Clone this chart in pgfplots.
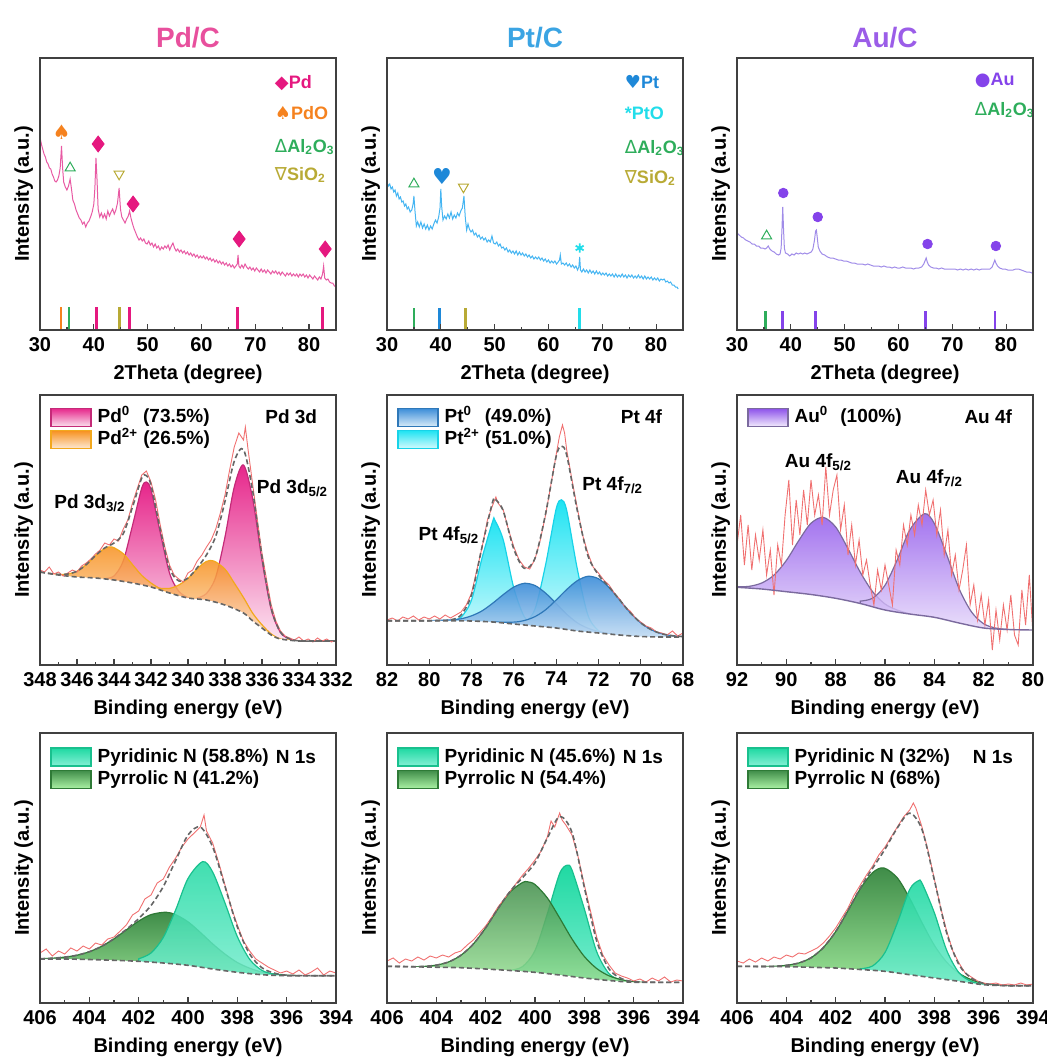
\documentclass[border=0pt]{standalone}
\usepackage{fontspec}
\setmainfont{Liberation Sans}
\newfontfamily\symfont{DejaVu Sans}
\usepackage{pgfplots}
\usepackage{pgfplotstable}
\pgfplotsset{compat=1.18}

\newcommand{\tkfont}{\fontsize{10}{12}\selectfont\bfseries}
\newcommand{\lgfont}{\fontsize{9.5}{11}\selectfont\bfseries}
\newcommand{\xlfont}{\fontsize{9}{10}\selectfont\bfseries}
\newcommand{\ttlfont}{\fontsize{14}{16}\selectfont\bfseries}

% XRD colours
\definecolor{pdttl}{HTML}{E8509D}
\definecolor{pdm}{HTML}{E5187F}
\definecolor{pdcurve}{HTML}{E85AA3}
\definecolor{pdo}{HTML}{F5821F}
\definecolor{alg}{HTML}{2EAD5B}
\definecolor{sio}{HTML}{B8AA35}
\definecolor{ptttl}{HTML}{3BA4E3}
\definecolor{ptm}{HTML}{1E88D8}
\definecolor{ptcurve}{HTML}{45B5F2}
\definecolor{pto}{HTML}{22DDEA}
\definecolor{auttl}{HTML}{9B5DE8}
\definecolor{aum}{HTML}{8443EA}
\definecolor{aucurve}{HTML}{A08CE8}
% XPS colours
\definecolor{pdtop}{HTML}{E6258A}
\definecolor{pdbot}{HTML}{FADCEB}
\definecolor{pdline}{HTML}{C42A78}
\definecolor{pdotop}{HTML}{F7901E}
\definecolor{pdobot}{HTML}{FDE8D2}
\definecolor{pdoline}{HTML}{F2A81D}
\definecolor{pttop}{HTML}{3A8CD8}
\definecolor{ptbot}{HTML}{D6EAF8}
\definecolor{ptline}{HTML}{2F78B8}
\definecolor{ptotop}{HTML}{1EE3F2}
\definecolor{ptobot}{HTML}{D2FAFD}
\definecolor{ptoline}{HTML}{17D3E8}
\definecolor{autop}{HTML}{8C50EA}
\definecolor{aubot}{HTML}{F0E8FC}
\definecolor{auline}{HTML}{7B6A9E}
\definecolor{pytop}{HTML}{1FD9A2}
\definecolor{pybot}{HTML}{86F0D6}
\definecolor{pyline}{HTML}{19C08E}
\definecolor{grtop}{HTML}{3F8C48}
\definecolor{grbot}{HTML}{A8F0A2}
\definecolor{grline}{HTML}{2E7A36}
\definecolor{rawc}{HTML}{F07070}
\definecolor{envc}{HTML}{666666}

% Shirley-type backgrounds
\pgfplotstableread{
x y
348 93
347 90
346 88
345 87
344 85
343 82
342 78
341 72
340 67
339 65
338 60
337 52
336.5 44
336 37
335.5 30
335 26
334 24
333 24
332 24
}\bgPd
\pgfplotstableread{
x y
82 44.3
80 44.3
79 44.2
78 44
77 43
76 41
75 39
74 37
73 34
72 32
71 30
70 28.5
69 28
68 28
}\bgPt
\pgfplotstableread{
x y
92 77.7
91 76
90 73.3
89 70.5
88 66.7
87 61.5
86 55
85 51
84 47.7
83 42
82 37
81 35.5
80 35
}\bgAu
\pgfplotstableread{
x y
406 44
405 44
404 43.5
403 42.7
402 41.7
401 40
400 37.7
399 34
398 30.7
397 28.3
396 27.3
395 27.3
394 27.3
}\bgNa
\pgfplotstableread{
x y
406 36.7
404 35.8
403 35.3
402 34
401 32.5
400 30.7
399 28
398 25
397 22.5
396 20.7
395 20.7
394 20.7
}\bgNb
\pgfplotstableread{
x y
406 36.7
404 36.3
403 35.7
402 35
401 33.5
400 31.7
399 28.3
398 25
397 21.7
396 18.3
395 17.3
394 17.3
}\bgNc

\pgfplotsset{
  panel/.style={scale only axis, width=148pt, height=135pt, anchor=south west, axis on top,
    axis line style={black!75, line width=0.7pt}, tick align=inside, xtick pos=bottom,
    ytick=\empty, major tick length=3pt, minor tick length=1.7pt,
    every tick/.style={black!75, line width=0.6pt},
    ticklabel style={font=\tkfont}, label style={font=\tkfont},
    /pgf/number format/assume math mode=true, ylabel={Intensity (a.u.)}, ymin=0},
  xrd/.style={panel, height=136pt, xmin=30, xmax=85, ymax=272, xtick={30,40,...,80},
    minor x tick num=1, xlabel={2Theta (degree)}, title style={font=\ttlfont, yshift=-4.5pt}},
  xps/.style={panel, x dir=reverse, ymax=270, minor x tick num=1,
    xlabel={Binding energy (eV)},
    legend image code/.code={\draw[##1] (0pt,-4.5pt) rectangle (20pt,4.5pt);},
    legend style={at={(0.034,#1)}, anchor=north west, draw=none, fill=none, inner sep=0pt,
      row sep=1.5pt, font=\lgfont, cells={anchor=west},
      nodes={inner sep=0.5pt, text height=7pt, text depth=1.5pt},
      /tikz/every odd column/.append style={column sep=2.5pt}}},
  raw/.style={color=rawc, line width=0.45pt},
  env/.style={color=envc, dash pattern=on 2.5pt off 1.5pt, line width=0.8pt, smooth},
  comp/.style={line width=0.6pt, smooth},
  cover/.style={fill=white, draw=none, smooth},
}

\begin{document}
\begin{tikzpicture}
\useasboundingbox (0,0) rectangle (523.5pt,-532pt);

%================ Pd/C XRD
\begin{axis}[xrd, at={(20pt,-165pt)}, title={Pd/C}, title style={text=pdttl}]
\addplot[pdcurve, line width=0.5pt] coordinates {
(30,193) (30.25,186) (30.5,181) (30.75,176) (31,173) (31.25,168) (31.5,166) (31.75,162) (32,161) (32.25,156)
(32.5,153) (32.75,149) (33,148) (33.25,150) (33.5,154) (33.75,162) (34,184) (34.2,162) (34.4,148) (34.7,143)
(35,140) (35.3,144) (35.6,151) (35.85,141) (36.1,130) (36.4,126) (36.7,120) (37,116) (37.3,112) (37.6,110)
(37.9,106) (38.2,108) (38.5,103) (38.8,107) (39.1,109) (39.4,113) (39.7,118) (40,126) (40.2,142) (40.4,172)
(40.6,150) (40.8,121) (41.1,113) (41.4,117) (41.7,112) (42,116) (42.3,111) (42.6,119) (42.9,114) (43.2,118)
(43.5,121) (43.8,116) (44.1,120) (44.4,127) (44.7,142) (44.95,121) (45.2,113) (45.5,110) (45.8,107) (46.1,111)
(46.4,114) (46.65,119) (46.9,112) (47.2,106) (47.5,101) (47.8,97) (48.1,93) (48.4,90) (48.7,92) (49,89)
(49.3,91) (49.6,87) (49.9,86) (50.2,89) (50.5,85) (50.8,87) (51.1,83) (51.4,86) (51.7,82) (52,84)
(52.3,80) (52.6,83) (52.9,81) (53.2,84) (53.5,82) (53.8,85) (54.1,80) (54.4,84) (54.7,87) (55,82)
(55.3,79) (55.6,81) (55.9,78) (56.2,80) (56.5,77) (56.8,79) (57.1,76) (57.4,78) (57.7,75) (58,77)
(58.3,74) (58.6,76) (58.9,73) (59.2,75) (59.5,72) (59.8,74) (60.1,72) (60.4,74) (60.7,71) (61,73)
(61.3,70) (61.6,72) (61.9,69) (62.2,71) (62.5,68) (62.8,70) (63.1,67) (63.4,69) (63.7,66) (64,68)
(64.3,65) (64.6,67) (64.9,64) (65.2,66) (65.5,63) (65.8,65) (66.1,62) (66.4,64) (66.65,66) (66.8,75)
(66.95,64) (67.2,62) (67.5,65) (67.8,62) (68.1,66) (68.4,63) (68.7,61) (69,63) (69.3,60) (69.6,62)
(69.9,59) (70.2,62) (70.5,60) (70.8,58) (71.1,61) (71.4,58) (71.7,60) (72,57) (72.3,60) (72.6,58)
(72.9,56) (73.2,59) (73.5,57) (73.8,59) (74.1,56) (74.4,58) (74.7,55) (75,58) (75.3,56) (75.6,54)
(75.9,57) (76.2,55) (76.5,57) (76.8,54) (77.1,56) (77.4,54) (77.7,56) (78,53) (78.3,56) (78.6,54)
(78.9,56) (79.2,53) (79.5,55) (79.8,52) (80.1,55) (80.4,53) (80.7,51) (81,54) (81.3,52) (81.6,50)
(81.9,53) (82.2,51) (82.5,56) (82.7,64) (82.9,52) (83.2,50) (83.5,51) (83.8,48) (84.1,47) (84.4,47)
(84.7,44) (85,44)};
% reference lines
\addplot[pdo, line width=1.3pt] coordinates {(33.9,0) (33.9,23)};
\addplot[alg, line width=1.3pt] coordinates {(35.4,0) (35.4,23)};
\addplot[sio, line width=1.3pt] coordinates {(44.8,0) (44.8,23)};
\addplot[pdm, line width=1.3pt, unbounded coords=jump] coordinates {
(40.5,0) (40.5,23) (40.5,nan) (46.6,0) (46.6,23) (46.6,nan) (66.7,0) (66.7,23) (66.7,nan) (82.5,0) (82.5,23)};
% peak markers
\addplot[only marks, mark=diamond*, mark size=4pt, pdm] coordinates {(40.8,186) (47.3,126) (67,91) (83,81)};
\addplot[only marks, mark=text, text mark={\textcolor{pdo}{\symfont\fontsize{10}{10}\selectfont ♠}}] coordinates {(34,198)};
\addplot[only marks, mark=triangle, mark size=2.9pt, alg, line width=0.5pt] coordinates {(35.6,162)};
\addplot[only marks, mark=triangle, mark size=2.9pt, sio, line width=0.5pt, mark options={rotate=180}] coordinates {(44.7,156)};
\node[anchor=west, text=pdm, font=\xlfont] at (axis description cs:0.77,0.908) {{\symfont ◆}Pd};
\node[anchor=west, text=pdo, font=\xlfont] at (axis description cs:0.77,0.798) {{\symfont ♠}PdO};
\node[anchor=west, text=alg, font=\xlfont] at (axis description cs:0.77,0.673) {{\symfont\mdseries Δ}Al\textsubscript{2}O\textsubscript{3}};
\node[anchor=west, text=sio, font=\xlfont] at (axis description cs:0.77,0.57) {{\symfont\mdseries ∇}SiO\textsubscript{2}};
\end{axis}

%================ Pt/C XRD
\begin{axis}[xrd, at={(193.5pt,-165pt)}, title={Pt/C}, title style={text=ptttl}]
\addplot[ptcurve, line width=0.5pt] coordinates {
(30,148) (30.25,144) (30.5,146) (30.75,141) (31,143) (31.25,138) (31.5,140) (31.75,134) (32,137) (32.25,131)
(32.5,133) (32.75,128) (33,129) (33.25,124) (33.5,126) (33.75,121) (34,123) (34.3,118) (34.6,120) (34.85,126)
(35,134) (35.2,119) (35.45,104) (35.7,108) (36,103) (36.3,108) (36.6,102) (36.9,106) (37.2,101) (37.5,105)
(37.8,100) (38.1,104) (38.4,101) (38.7,106) (39,110) (39.3,107) (39.6,113) (39.85,122) (40,141) (40.15,124)
(40.4,110) (40.7,114) (41,111) (41.3,116) (41.6,112) (41.9,118) (42.2,111) (42.5,115) (42.8,112) (43.1,117)
(43.4,114) (43.7,119) (44,122) (44.3,134) (44.55,112) (44.8,100) (45.05,106) (45.3,101) (45.6,98) (45.9,100)
(46.2,95) (46.5,97) (46.8,93) (47.1,95) (47.4,91) (47.7,93) (48,90) (48.3,92) (48.6,88) (48.9,90)
(49.2,88) (49.5,94) (49.8,87) (50.1,86) (50.4,88) (50.7,84) (51,86) (51.3,82) (51.6,83) (51.9,80)
(52.2,82) (52.5,78) (52.8,80) (53.1,77) (53.4,79) (53.7,76) (54,79) (54.3,75) (54.6,78) (54.9,75)
(55.2,77) (55.5,74) (55.8,76) (56.1,73) (56.4,75) (56.7,72) (57,74) (57.3,71) (57.6,73) (57.9,71)
(58.2,73) (58.5,70) (58.8,72) (59.1,69) (59.4,71) (59.7,68) (60,70) (60.3,67) (60.6,69) (60.9,67)
(61.2,69) (61.5,66) (61.8,68) (62.05,70) (62.2,75) (62.4,66) (62.7,67) (63,65) (63.3,67) (63.6,64)
(63.9,66) (64.2,63) (64.5,65) (64.8,62) (65.1,64) (65.4,60) (65.65,63) (65.8,73) (65.95,60) (66.2,58)
(66.5,61) (66.8,58) (67.1,60) (67.4,57) (67.7,60) (68,57) (68.3,59) (68.6,56) (68.9,59) (69.2,56)
(69.5,58) (69.8,55) (70.1,57) (70.4,55) (70.7,57) (71,54) (71.3,56) (71.6,54) (71.9,56) (72.2,53)
(72.5,56) (72.8,53) (73.1,55) (73.4,53) (73.7,56) (74,53) (74.3,55) (74.6,52) (74.9,55) (75.2,53)
(75.5,55) (75.8,52) (76.1,54) (76.4,52) (76.7,55) (77,52) (77.3,54) (77.6,51) (77.9,54) (78.2,51)
(78.5,53) (78.8,51) (79.1,53) (79.4,50) (79.7,52) (80,50) (80.3,52) (80.6,49) (80.9,51) (81.2,50)
(81.5,51) (81.8,48) (82.1,49) (82.4,47) (82.7,48) (83,45) (83.3,45) (83.6,43) (83.9,43) (84.1,41)};
\addplot[alg, line width=1.3pt] coordinates {(35,0) (35,22)};
\addplot[ptm, line width=1.3pt] coordinates {(39.8,0) (39.8,22)};
\addplot[sio, line width=1.3pt] coordinates {(44.6,0) (44.6,22)};
\addplot[pto, line width=1.3pt] coordinates {(65.8,0) (65.8,22)};
\addplot[only marks, mark=text, text mark={\textcolor{ptm}{\symfont\fontsize{11}{11}\selectfont ♥}}] coordinates {(40.2,154)};
\addplot[only marks, mark=triangle, mark size=2.9pt, alg, line width=0.5pt] coordinates {(35,146)};
\addplot[only marks, mark=triangle, mark size=2.9pt, sio, line width=0.5pt, mark options={rotate=180}] coordinates {(44.2,143)};
\addplot[only marks, mark=asterisk, mark size=2.3pt, pto, line width=0.9pt] coordinates {(65.8,82)};
\node[anchor=west, text=ptm, font=\xlfont] at (axis description cs:0.78,0.912) {{\symfont ♥}Pt};
\node[anchor=west, text=pto, font=\xlfont] at (axis description cs:0.78,0.798) {*PtO};
\node[anchor=west, text=alg, font=\xlfont] at (axis description cs:0.78,0.669) {{\symfont\mdseries Δ}Al\textsubscript{2}O\textsubscript{3}};
\node[anchor=west, text=sio, font=\xlfont] at (axis description cs:0.78,0.559) {{\symfont\mdseries ∇}SiO\textsubscript{2}};
\end{axis}

%================ Au/C XRD
\begin{axis}[xrd, at={(368.5pt,-165pt)}, title={Au/C}, title style={text=auttl}]
\addplot[aucurve, line width=0.5pt] coordinates {
(30,97) (30.4,95) (30.8,93) (31.2,92) (31.6,90) (32,89) (32.4,88) (32.8,86) (33.2,86) (33.6,84)
(34,84) (34.4,82) (34.8,82) (35.2,81) (35.5,82) (35.8,84) (36.1,81) (36.5,79) (36.9,78) (37.3,76)
(37.7,75) (38,76) (38.2,82) (38.35,100) (38.5,123) (38.65,100) (38.8,82) (39,77) (39.4,76) (39.8,74)
(40.2,76) (40.6,75) (41,77) (41.4,76) (41.8,77) (42.2,76) (42.6,77) (43,76) (43.4,77) (43.8,78)
(44.1,81) (44.4,90) (44.6,99) (44.75,100) (44.9,93) (45.1,83) (45.4,79) (45.8,76) (46.3,75) (46.8,73)
(47.3,72) (47.8,72) (48.3,71) (48.8,70) (49.3,70) (49.8,69) (50.3,69) (50.8,68) (51.3,67) (51.8,67)
(52.3,66) (52.8,66) (53.3,66) (53.8,65) (54.3,66) (54.8,65) (55.3,64) (55.8,64) (56.3,64) (56.8,63)
(57.3,64) (57.8,63) (58.3,63) (58.8,62) (59.3,63) (59.8,62) (60.3,62) (60.8,63) (61.3,62) (61.8,62)
(62.3,62) (62.8,61) (63.3,62) (63.8,62) (64.3,63) (64.7,66) (65,70) (65.15,72) (65.35,68) (65.6,65)
(66,63) (66.5,62) (67,62) (67.5,61) (68,62) (68.5,61) (69,61) (69.5,61) (70,61) (70.5,61)
(71,60) (71.5,61) (72,60) (72.5,61) (73,60) (73.5,61) (74,60) (74.5,61) (75,60) (75.5,61)
(76,61) (76.5,61) (77,61) (77.4,63) (77.7,67) (77.9,70) (78.1,67) (78.4,64) (78.8,62) (79.3,61)
(79.8,61) (80.3,60) (80.8,60) (81.3,60) (81.8,61) (82.3,61) (82.8,60) (83.3,59) (83.8,58) (84.3,58)
(84.8,57) (85,57)};
\addplot[alg, line width=1.3pt] coordinates {(35.3,0) (35.3,19)};
\addplot[aum, line width=1.3pt, unbounded coords=jump] coordinates {
(38.4,0) (38.4,19) (38.4,nan) (44.6,0) (44.6,19) (44.6,nan) (65,0) (65,19) (65,nan) (77.9,0) (77.9,19)};
\addplot[only marks, mark=*, mark size=2.4pt, aum] coordinates {(38.6,137) (45,113) (65.4,86) (78.1,84)};
\addplot[only marks, mark=triangle, mark size=2.9pt, alg, line width=0.5pt] coordinates {(35.5,94)};
\node[anchor=west, text=aum, font=\xlfont] at (axis description cs:0.78,0.919) {{\symfont ●}Au};
\node[anchor=west, text=alg, font=\xlfont] at (axis description cs:0.78,0.809) {{\symfont\mdseries Δ}Al\textsubscript{2}O\textsubscript{3}};
\end{axis}

%================ Pd 3d
\begin{axis}[xps=0.955, at={(20pt,-332.5pt)}, xmin=332, xmax=348, xtick={332,334,...,348}]
\addlegendimage{top color=pdtop, bottom color=pdbot, draw=pdline, line width=0.6pt}
\addlegendentry{Pd\textsuperscript{0}\hspace{6.4pt}(73.5\%)}
\addlegendimage{top color=pdotop, bottom color=pdobot, draw=pdoline, line width=0.6pt}
\addlegendentry{Pd\textsuperscript{2+} (26.5\%)}
\addplot[comp, draw=pdline, top color=pdtop, bottom color=white] coordinates {
(339.5,67) (339,71.5) (338.5,88) (338,128) (337.5,178) (337,200) (336.5,166) (336,105) (335.5,55.5)
(335,32.5) (334.5,26) (334,24)} \closedcycle;
\addplot[comp, draw=pdline, top color=pdtop, bottom color=white] coordinates {
(344.5,86.5) (344,89) (343.5,104) (343,139.5) (342.5,177) (342.25,183) (342,175) (341.5,132.5) (341,92)
(340.5,73.7) (340,67.4)} \closedcycle;
\addplot[comp, draw=pdoline, top color=pdotop, bottom color=white, fill opacity=0.85] coordinates {
(347.5,91.6) (347,90.6) (346.5,91) (346,93.8) (345.5,100.4) (345,109.4) (344.5,116.6) (344.1,118)
(343.5,111.3) (343,100.4) (342.5,89.6) (342,82) (341.5,76.3) (341,72.3) (340.5,69.5)} \closedcycle;
\addplot[comp, draw=pdoline, top color=pdotop, bottom color=white, fill opacity=0.85] coordinates {
(341.5,76.7) (341,76.6) (340.5,80) (340,86.5) (339.5,96.2) (339,103.6) (338.6,104) (338,95.8)
(337.5,82) (337,67.5) (336.5,51.7) (336,40.2) (335.5,31) (335,26) (334.5,25)} \closedcycle;
\addplot[cover] table {\bgPd} \closedcycle;
\addplot[env] table {\bgPd};
\addplot[raw] coordinates {
(348,95) (347.75,93) (347.5,98) (347.25,91) (347,93) (346.75,89) (346.5,92) (346.25,95) (346,93) (345.75,99)
(345.5,102) (345.25,106) (345,111) (344.75,115) (344.5,122) (344.25,120) (344,126) (343.75,124) (343.5,136) (343.25,145)
(343,162) (342.75,176) (342.5,190) (342.25,194) (342,183) (341.75,165) (341.5,140) (341.25,118) (341,100) (340.75,90)
(340.5,86) (340.25,83) (340,92) (339.75,95) (339.5,104) (339.25,110) (339,118) (338.75,125) (338.5,136) (338.25,152)
(338,170) (337.75,195) (337.5,218) (337.25,232) (337,225) (336.9,238) (336.75,215) (336.5,180) (336.25,145) (336,112)
(335.75,85) (335.5,60) (335.25,44) (335,34) (334.75,29) (334.5,27) (334.25,25) (334,28) (333.75,24) (333.5,26)
(333.25,23) (333,27) (332.75,24) (332.5,26) (332.25,23) (332,25)};
\addplot[env] coordinates {
(348,93) (347.5,91.6) (347,90.6) (346.5,91) (346,93.8) (345.5,100.4) (345,109.4) (344.5,117.1) (344,122)
(343.5,131.3) (343,157.9) (342.5,187) (342.25,189.4) (342,180) (341.5,135.5) (341,96.9) (340.5,84.1)
(340,87) (339.5,97.3) (339,110.1) (338.5,128.8) (338,163.6) (337.5,203.7) (337,215.5) (336.5,173.5)
(336,108) (335.5,56.6) (335,32.8) (334.5,26.1) (334,24.2) (333,24) (332,24)};
\node[anchor=east, font=\lgfont] at (axis description cs:0.96,0.918) {Pd 3d};
\node[font=\lgfont] at (axis cs:345.3,162) {Pd 3d\textsubscript{3/2}};
\node[font=\lgfont] at (axis cs:334.35,177) {Pd 3d\textsubscript{5/2}};
\end{axis}

%================ Pt 4f
\begin{axis}[xps=0.955, at={(193.5pt,-332.5pt)}, xmin=68, xmax=82, xtick={68,70,...,82}]
\addlegendimage{top color=pttop, bottom color=ptbot, draw=ptline, line width=0.6pt}
\addlegendentry{Pt\textsuperscript{0}\hspace{6.4pt}(49.0\%)}
\addlegendimage{top color=ptotop, bottom color=ptobot, draw=ptoline, line width=0.6pt}
\addlegendentry{Pt\textsuperscript{2+} (51.0\%)}
\addplot[comp, draw=ptoline, top color=ptotop, bottom color=white] coordinates {
(79,44.3) (78.5,47.7) (78,65.2) (77.5,107.4) (77,143.7) (76.9,144.8) (76.5,124.9) (76,76.7) (75.5,48) (75,39.9) (74.5,38)} \closedcycle;
\addplot[comp, draw=ptoline, top color=ptotop, bottom color=white] coordinates {
(76,41) (75.5,42.4) (75,56) (74.5,100.1) (74,156) (73.75,165.2) (73.5,154.5) (73,96.1) (72.5,50) (72,34.4) (71.5,31)} \closedcycle;
\addplot[comp, draw=ptline, top color=pttop, bottom color=white, fill opacity=0.9] coordinates {
(80,44.3) (79,45.1) (78.5,46.2) (78,49.2) (77.5,54.2) (77,61.8) (76.5,70.4) (76,78) (75.5,81.7) (75,79.5)
(74.5,71.9) (74,61.5) (73.5,50.8) (73,42.2) (72.5,36.8) (72,33.5) (71.5,31.5) (71,30)} \closedcycle;
\addplot[comp, draw=ptline, top color=pttop, bottom color=white, fill opacity=0.9] coordinates {
(77,43) (76,42.9) (75.5,44.5) (75,48.4) (74.5,55.2) (74,65) (73.5,75.5) (73,84.3) (72.5,88.7) (72,86.3)
(71.5,77.6) (71,65.2) (70.5,52.4) (70,42.2) (69.5,35.3) (69,31.2) (68.5,29.3) (68,28.4)} \closedcycle;
\addplot[cover] table {\bgPt} \closedcycle;
\addplot[env] table {\bgPt};
\addplot[raw] coordinates {
(82,45) (81.75,47) (81.5,44) (81.25,48) (81,46) (80.75,49) (80.5,45) (80.25,48) (80,46) (79.75,49)
(79.5,46) (79.25,50) (79,47) (78.75,50) (78.5,53) (78.25,60) (78,72) (77.75,95) (77.5,118) (77.25,145)
(77,160) (76.85,168) (76.75,162) (76.5,155) (76.25,135) (76,118) (75.75,105) (75.5,98) (75.25,96) (75,106)
(74.75,125) (74.5,150) (74.25,180) (74,210) (73.85,228) (73.7,240) (73.6,232) (73.5,215) (73.25,185) (73,157)
(72.75,130) (72.5,112) (72.25,98) (72,92) (71.75,85) (71.5,80) (71.25,72) (71,66) (70.75,58) (70.5,54)
(70.25,47) (70,43) (69.75,39) (69.5,37) (69.25,33) (69,32) (68.75,30) (68.5,34) (68.25,29) (68,32)};
\addplot[env] coordinates {
(82,44.3) (81,44.3) (80,44.3) (79.5,44.6) (79,45.1) (78.5,49.9) (78,70.4) (77.5,118.6) (77,163.5) (76.85,165)
(76.5,154) (76,115.8) (75.5,96.6) (75,106.8) (74.5,151.2) (74,208.5) (73.75,218.9) (73.5,209.8) (73,154.6)
(72.5,109.5) (72,90.2) (71.5,78.1) (71,65.2) (70.5,52.4) (70,42.2) (69.5,35.3) (69,31.2) (68.5,29.3) (68,28.4)};
\node[anchor=east, font=\lgfont] at (axis description cs:0.953,0.918) {Pt 4f};
\node[font=\lgfont] at (axis cs:79.07,130) {Pt 4f\textsubscript{5/2}};
\node[font=\lgfont] at (axis cs:71.32,180) {Pt 4f\textsubscript{7/2}};
\end{axis}

%================ Au 4f
\begin{axis}[xps=0.955, at={(368.5pt,-332.5pt)}, xmin=80, xmax=92, xtick={80,82,...,92}]
\addlegendimage{top color=autop, bottom color=aubot, draw=auline, line width=0.6pt}
\addlegendentry{Au\textsuperscript{0}\hspace{6pt}(100\%)}
\addplot[comp, draw=auline, top color=autop, bottom color=white, fill opacity=0.8] coordinates {
(92,78.2) (91.5,78.7) (91,82) (90.5,89.9) (90,104.5) (89.5,124.3) (89,141.8) (88.5,147.6) (88,138)
(87.5,116.3) (87,92.7) (86.5,73.2) (86,61) (85.5,54.9) (85,51.1)} \closedcycle;
\addplot[comp, draw=auline, top color=autop, bottom color=white, fill opacity=0.8] coordinates {
(87,63.9) (86.5,66.8) (86,79.7) (85.5,105.4) (85,134.9) (84.4,151.3) (84,141.5) (83.5,110.4) (83,76.5)
(82.5,53.3) (82,41.2) (81.5,36.9) (81,35.5)} \closedcycle;
\addplot[cover] table {\bgAu} \closedcycle;
\addplot[raw] coordinates {
(92,120) (91.85,150) (91.7,100) (91.55,140) (91.4,95) (91.25,130) (91.1,105) (90.95,135) (90.8,90) (90.65,115)
(90.5,70) (90.35,120) (90.2,100) (90.05,150) (89.9,185) (89.75,120) (89.6,165) (89.45,130) (89.3,175) (89.15,140)
(89,185) (88.85,150) (88.7,170) (88.55,140) (88.4,198) (88.25,150) (88.1,175) (87.95,190) (87.8,135) (87.65,160)
(87.5,110) (87.35,140) (87.2,100) (87.05,125) (86.9,90) (86.75,105) (86.6,80) (86.45,60) (86.3,95) (86.15,75)
(86,100) (85.85,80) (85.7,60) (85.55,115) (85.4,100) (85.25,140) (85.1,120) (84.95,150) (84.8,130) (84.65,160)
(84.5,140) (84.35,175) (84.2,150) (84.05,165) (83.9,130) (83.75,155) (83.6,110) (83.45,135) (83.3,90) (83.15,110)
(83,75) (82.85,95) (82.7,120) (82.55,60) (82.4,80) (82.25,45) (82.1,70) (81.95,40) (81.8,65) (81.65,15)
(81.5,55) (81.35,25) (81.2,60) (81.05,35) (80.9,70) (80.75,30) (80.6,20) (80.45,75) (80.3,40) (80.15,90) (80,30)};
\addplot[auline, line width=0.7pt, smooth] table {\bgAu};
\node[anchor=east, font=\lgfont] at (axis description cs:0.953,0.918) {Au 4f};
\node[font=\lgfont] at (axis cs:88.7,203) {Au 4f\textsubscript{5/2}};
\node[font=\lgfont] at (axis cs:84.2,187) {Au 4f\textsubscript{7/2}};
\end{axis}

%================ N 1s (Pd/C)
\begin{axis}[xps=0.948, at={(20pt,-501.5pt)}, xmin=394, xmax=406, xtick={394,396,...,406}]
\addlegendimage{top color=pytop, bottom color=pybot, draw=pyline, line width=0.6pt}
\addlegendentry{Pyridinic N (58.8\%)}
\addlegendimage{top color=grtop, bottom color=grbot, draw=grline, line width=0.6pt}
\addlegendentry{Pyrrolic N (41.2\%)}
\addplot[comp, draw=grline, top color=grtop, bottom color=grbot] coordinates {
(406,44.3) (405.5,44.8) (405,45.9) (404.5,47.8) (404,51.3) (403.5,56.7) (403,64.2) (402.5,73.1) (402,81.9) (401.5,88.4)
(400.9,90.8) (400.5,88.3) (400,81.2) (399.5,70.6) (399,59.1) (398.5,48.9) (398,40.5) (397.5,34.8) (397,30.9)
(396.5,28.9) (396,27.8) (395.5,27.3)} \closedcycle;
\addplot[comp, draw=pyline, top color=pytop, bottom color=pybot, fill opacity=0.85] coordinates {
(402,44.2) (401.5,50) (401,65.6) (400.5,93.1) (400,124.5) (399.4,141.4) (399,131) (398.5,100) (398,66.4)
(397.5,43.7) (397,32.6) (396.5,28.8) (396,27.3)} \closedcycle;
\addplot[cover] table {\bgNa} \closedcycle;
\addplot[env] table {\bgNa};
\addplot[raw] coordinates {
(406,50) (405.75,54) (405.5,47) (405.25,52) (405,49) (404.75,55) (404.5,52) (404.25,57) (404,54) (403.75,60)
(403.5,58) (403.25,64) (403,66) (402.75,72) (402.5,78) (402.25,88) (402,92) (401.75,104) (401.5,108) (401.25,120)
(401,124) (400.75,136) (400.5,145) (400.25,156) (400,164) (399.75,170) (399.5,176) (399.35,188) (399.25,172) (399,160)
(398.75,140) (398.5,118) (398.25,96) (398,78) (397.75,62) (397.5,52) (397.25,44) (397,40) (396.75,36) (396.5,33)
(396.25,30) (396,32) (395.75,29) (395.5,33) (395.25,28) (395,31) (394.75,35) (394.5,28) (394.25,32) (394,30)};
\addplot[env] coordinates {
(406,44.3) (405.5,44.8) (405,45.9) (404.5,47.8) (404,51.3) (403.5,56.7) (403,64.3) (402.5,73.6) (402,84.4)
(401.5,97.5) (401,116.5) (400.5,142.5) (400,168) (399.5,176) (399,156.1) (398.5,116.5) (398,76.2) (397.5,49)
(397,35.2) (396.5,29.9) (396,27.8) (395,27.3) (394,27.3)};
\node[anchor=east, font=\lgfont] at (axis description cs:0.956,0.911) {N 1s};
\end{axis}

%================ N 1s (Pt/C)
\begin{axis}[xps=0.948, at={(193.5pt,-501.5pt)}, xmin=394, xmax=406, xtick={394,396,...,406}]
\addlegendimage{top color=pytop, bottom color=pybot, draw=pyline, line width=0.6pt}
\addlegendentry{Pyridinic N (45.6\%)}
\addlegendimage{top color=grtop, bottom color=grbot, draw=grline, line width=0.6pt}
\addlegendentry{Pyrrolic N (54.4\%)}
\addplot[comp, draw=pyline, top color=pytop, bottom color=pybot] coordinates {
(401,32.6) (400.5,36.5) (400,52.5) (399.5,89.2) (399,129.5) (398.7,137.8) (398.5,133) (398,94.1) (397.5,51.4)
(397,29.4) (396.5,22.7) (396,20.7)} \closedcycle;
\addplot[comp, draw=grline, top color=grtop, bottom color=grbot, fill opacity=0.85] coordinates {
(405,36.3) (404.5,36.6) (404,37.9) (403.5,41.1) (403,47.8) (402.5,59) (402,75.2) (401.5,94.3) (401,111.3)
(400.5,120.6) (400.3,121.2) (400,118.5) (399.5,105.1) (399,85) (398.5,64) (398,46.5) (397.5,34.5) (397,27.2)
(396.5,23.4) (396,21.3) (395.5,20.7)} \closedcycle;
\addplot[cover] table {\bgNb} \closedcycle;
\addplot[env] table {\bgNb};
\addplot[raw] coordinates {
(406,42) (405.75,45) (405.5,40) (405.25,44) (405,42) (404.75,46) (404.5,43) (404.25,47) (404,45) (403.75,48)
(403.5,46) (403.25,50) (403,52) (402.75,58) (402.5,63) (402.25,70) (402,77) (401.75,86) (401.5,96) (401.25,104)
(401,112) (400.75,120) (400.5,128) (400.25,135) (400,143) (399.75,152) (399.5,166) (399.35,182) (399.2,176) (399,190)
(398.9,183) (398.75,178) (398.5,168) (398.25,146) (398,118) (397.75,92) (397.5,66) (397.25,48) (397,38) (396.75,30)
(396.5,27) (396.25,25) (396,22) (395.75,24) (395.5,21) (395.25,25) (395,22) (394.75,26) (394.5,21) (394.25,23) (394,22)};
\addplot[env] coordinates {
(406,36.7) (405,36.4) (404.5,36.6) (404,37.9) (403.5,41.1) (403,47.8) (402.5,59) (402,75.2) (401.5,94.4) (401,112)
(400.5,125.5) (400,140.3) (399.5,164.9) (399,186.5) (398.5,170.5) (398,115.6) (397.5,62.2) (397,34.1) (396.5,24.5)
(396,21.3) (395,20.7) (394,20.7)};
\node[anchor=east, font=\lgfont] at (axis description cs:0.956,0.911) {N 1s};
\end{axis}

%================ N 1s (Au/C)
\begin{axis}[xps=0.948, at={(368.5pt,-501.5pt)}, xmin=394, xmax=406, xtick={394,396,...,406}]
\addlegendimage{top color=pytop, bottom color=pybot, draw=pyline, line width=0.6pt}
\addlegendentry{Pyridinic N (32\%)}
\addlegendimage{top color=grtop, bottom color=grbot, draw=grline, line width=0.6pt}
\addlegendentry{Pyrrolic N (68\%)}
\addplot[comp, draw=grline, top color=grtop, bottom color=grbot] coordinates {
(405,36.5) (404.5,36.7) (404,37.7) (403.5,40) (403,45.2) (402.5,55.4) (402,71.4) (401.5,92.4) (401,114.3)
(400.5,130.4) (400.05,135.1) (399.5,125.1) (399,104.7) (398.5,80.3) (398,57.7) (397.5,40.8) (397,29.8)
(396.5,23.3) (396,19.4) (395.5,18.1) (395,17.3)} \closedcycle;
\addplot[comp, draw=pyline, top color=pytop, bottom color=pybot, fill opacity=0.9] coordinates {
(401,34.2) (400.5,37.1) (400,50.5) (399.5,80) (399,113.5) (398.65,122.2) (398.5,119.8) (398,90.3) (397.5,52.7)
(397,30.2) (396.5,21.6) (396,18.5) (395.5,17.8)} \closedcycle;
\addplot[cover] table {\bgNc} \closedcycle;
\addplot[env] table {\bgNc};
\addplot[raw] coordinates {
(406,42) (405.75,40) (405.5,44) (405.25,41) (405,45) (404.75,42) (404.5,46) (404.25,44) (404,48) (403.75,46)
(403.5,50) (403.25,49) (403,52) (402.75,55) (402.5,60) (402.25,67) (402,75) (401.75,85) (401.5,95) (401.25,108)
(401,118) (400.75,128) (400.5,137) (400.25,148) (400,156) (399.75,166) (399.5,176) (399.25,186) (399,193) (398.85,200)
(398.75,195) (398.5,176) (398.25,152) (398,124) (397.75,96) (397.5,72) (397.25,52) (397,40) (396.75,30) (396.5,26)
(396.25,22) (396,20) (395.75,19) (395.5,20) (395.25,18) (395,19) (394.75,18) (394.5,20) (394.25,18) (394,19)};
\addplot[env] coordinates {
(406,36.7) (405,36.5) (404.5,36.7) (404,37.7) (403.5,40) (403,45.2) (402.5,55.4) (402,71.4) (401.5,92.5) (401,115)
(400.5,134.9) (400,153.8) (399.5,175.1) (399,189.9) (398.5,173.4) (398,123) (397.5,70.1) (397,38.3) (396.5,24.9)
(396,19.6) (395.5,18.1) (395,17.3) (394,17.3)};
\node[anchor=east, font=\lgfont] at (axis description cs:0.956,0.911) {N 1s};
\end{axis}
\end{tikzpicture}
\end{document}
